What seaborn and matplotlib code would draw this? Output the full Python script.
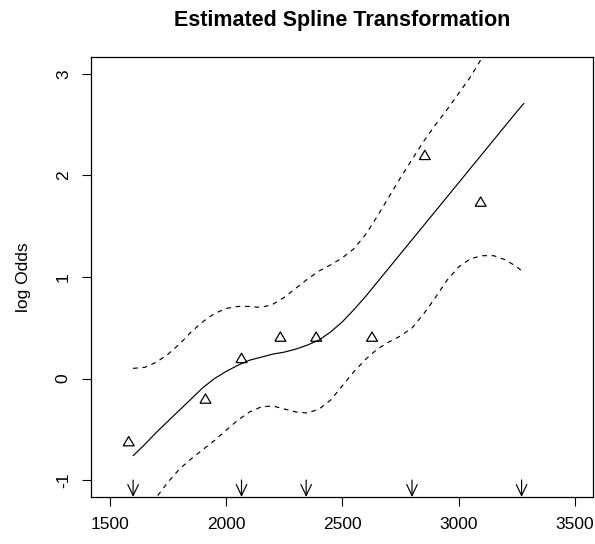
import matplotlib
matplotlib.use("Agg")
import matplotlib.pyplot as plt
import seaborn as sns
import pandas as pd

# ---- data ----
grid_x = [1600, 1650, 1700, 1750, 1800, 1850, 1900, 1950, 2000, 2050, 2100, 2150,
          2200, 2250, 2300, 2350, 2400, 2450, 2500, 2550, 2600, 2650, 2700, 2750,
          2800, 2850, 2900, 2950, 3000, 3050, 3100, 3150, 3200, 3250, 3280]
fit_y = [-0.76, -0.65, -0.53, -0.42, -0.31, -0.20, -0.09, 0.00, 0.07, 0.13, 0.18, 0.21,
         0.24, 0.26, 0.29, 0.33, 0.38, 0.46, 0.56, 0.68, 0.81, 0.95, 1.09, 1.23,
         1.37, 1.51, 1.65, 1.79, 1.93, 2.07, 2.21, 2.35, 2.49, 2.63, 2.71]
upper_y = [0.10, 0.11, 0.16, 0.24, 0.34, 0.46, 0.56, 0.64, 0.69, 0.71, 0.71, 0.70,
           0.73, 0.80, 0.89, 0.98, 1.06, 1.12, 1.19, 1.28, 1.42, 1.60, 1.79, 1.98,
           2.16, 2.34, 2.50, 2.65, 2.81, 2.97, 3.16, 3.36, 3.57, 3.79, 3.92]
lower_y = [-1.55, -1.36, -1.17, -1.02, -0.89, -0.79, -0.70, -0.61, -0.51, -0.41, -0.33, -0.28,
           -0.27, -0.30, -0.33, -0.34, -0.30, -0.21, -0.07, 0.07, 0.19, 0.29, 0.36, 0.42,
           0.50, 0.64, 0.80, 0.97, 1.10, 1.18, 1.21, 1.21, 1.17, 1.10, 1.04]
obs_x = [1581, 1911, 2066, 2233, 2387, 2627, 2854, 3094]
obs_y = [-0.62, -0.20, 0.20, 0.41, 0.41, 0.41, 2.20, 1.74]
knots = [1600, 2066, 2344, 2799, 3270]
xticks = [1500, 2000, 2500, 3000, 3500]
yticks = [-1, 0, 1, 2, 3]
title = "Estimated Spline Transformation"
ylabel = "log Odds"

sns.set_style("white")
plt.rcParams["font.family"] = ["Liberation Sans", "DejaVu Sans"]

curves = pd.DataFrame({"x": grid_x, "fit": fit_y, "upper": upper_y, "lower": lower_y})
obs = pd.DataFrame({"x": obs_x, "y": obs_y})

fig = plt.figure(figsize=(5.95, 5.44), dpi=100)
ax = fig.add_axes([91 / 595, 47 / 544, 502 / 595, 440 / 544])

xlim = (1419, 3577)
ylim = (-1.167, 3.167)

lw = 0.85
sns.lineplot(data=curves, x="x", y="fit", ax=ax, color="black", lw=lw,
             estimator=None, sort=False)
sns.lineplot(data=curves, x="x", y="upper", ax=ax, color="black", lw=lw,
             estimator=None, sort=False, dashes=False, linestyle=(0, (4, 4)))
sns.lineplot(data=curves, x="x", y="lower", ax=ax, color="black", lw=lw,
             estimator=None, sort=False, dashes=False, linestyle=(0, (4, 4)))

tri = [(-1, -0.8), (1, -0.8), (0, 0.9), (-1, -0.8)]
sns.scatterplot(data=obs, x="x", y="y", ax=ax, marker=tri, s=62,
                facecolor="none", edgecolor="black", linewidth=0.9, zorder=5)

ax.set_xlim(*xlim)
ax.set_ylim(*ylim)

for k in knots:
    ax.annotate("", xy=(k, ylim[0]), xytext=(k, -1.0),
                arrowprops=dict(arrowstyle="->,head_length=0.8,head_width=0.38",
                                mutation_scale=10,
                                color="black", lw=lw, shrinkA=0, shrinkB=0))

ax.set_xticks(xticks)
ax.set_yticks(yticks)
ax.set_xticklabels([str(t) for t in xticks])
ax.set_yticklabels([str(t) for t in yticks])
ax.tick_params(axis="both", direction="out", length=6.5, width=0.8,
               bottom=True, left=True, top=False, right=False,
               color="black", labelsize=12.5, labelcolor="black")
ax.tick_params(axis="x", pad=8)
ax.tick_params(axis="y", pad=8)
plt.setp(ax.get_yticklabels(), rotation=90, va="center", ha="right")

for sp in ax.spines.values():
    sp.set_visible(True)
    sp.set_color("black")
    sp.set_linewidth(0.9)

ax.set_xlabel("")
ax.set_ylabel(ylabel, fontsize=12.5, color="black")
ax.yaxis.set_label_coords(-0.12, 0.5)
ax.set_title(title, fontsize=15.5, fontweight="bold", pad=22, color="black")

fig.savefig("out.png", dpi=100, facecolor="white")
